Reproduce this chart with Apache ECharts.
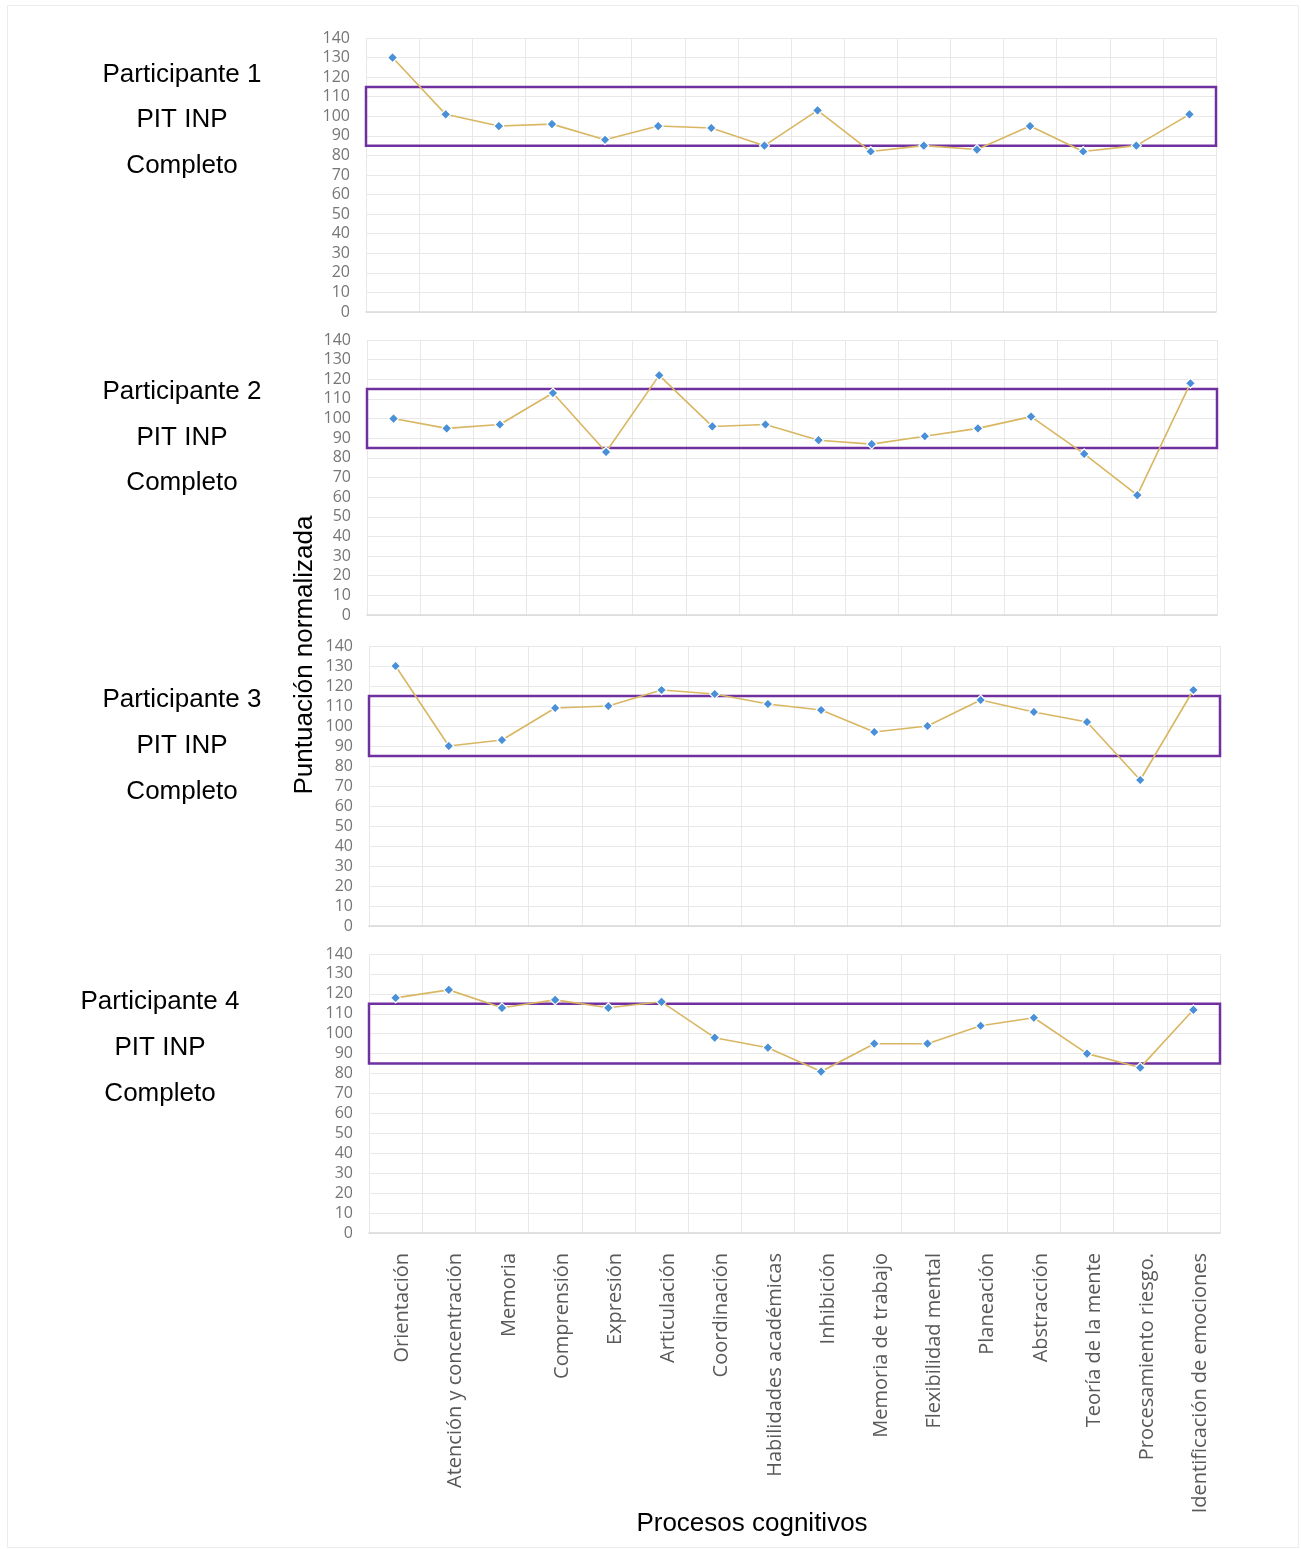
<!DOCTYPE html>
<html>
<head>
<meta charset="utf-8">
<script src="https://cdn.jsdelivr.net/npm/echarts@6/dist/echarts.min.js"></script>
<style>
html,body{margin:0;padding:0;background:#fff;}
#chart{width:1301px;height:1549px;}
</style>
</head>
<body>
<div id="chart"></div>
<script>
// ---- data ----
const categories = ["Orientación","Atención y concentración","Memoria","Comprensión","Expresión","Articulación","Coordinación","Habilidades académicas","Inhibición","Memoria de trabajo","Flexibilidad mental","Planeación","Abstracción","Teoría de la mente","Procesamiento riesgo.","Identificación de emociones"];
const participante1 = [130,101,95,96,88,95,94,85,103,82,85,83,95,82,85,101];
const participante2 = [100,95,97,113,83,122,96,97,89,87,91,95,101,82,61,118];
const participante3 = [130,90,93,109,110,118,116,111,108,97,100,113,107,102,73,118];
const participante4 = [118,122,113,117,113,116,98,93,81,95,95,104,108,90,83,112];
const panelNames = ["Participante 1","Participante 2","Participante 3","Participante 4"];
const panelSub = ["PIT INP","Completo"];
const yMin = 0, yMax = 140, yInterval = 10;
const normalRange = [85, 115];
const yTitle = "Puntuación normalizada";
const xTitle = "Procesos cognitivos";

const seriesData = [participante1, participante2, participante3, participante4];

// ---- layout ----
const grids = [
  {left:366, top:38, width:850, height:274},
  {left:367, top:340, width:850, height:275},
  {left:369, top:646, width:851, height:280},
  {left:369, top:954, width:851, height:279}
];
const textCenters = [
  {x:182, y:[75,120,166]},
  {x:182, y:[392,438,483]},
  {x:182, y:[700,746,792]},
  {x:160, y:[1002,1048,1094]}
];

const chart = echarts.init(document.getElementById('chart'), null, {renderer:'canvas'});

const xAxes = grids.map((g,i)=>({
  type:'category', gridIndex:i, data:categories, boundaryGap:true,
  axisLine:{show:true, lineStyle:{color:'#d9d9d9', width:1.5}},
  axisTick:{show:false, interval:0},
  splitLine:{show:true, interval:0, lineStyle:{color:'#e8e8e8', width:1}},
  axisLabel: i===3 ? {show:true, rotate:90, interval:0, margin:20, color:'#595959', fontFamily:'Open Sans', fontSize:20, verticalAlign:'top', lineHeight:14} : {show:false, interval:0}
}));
const yAxes = grids.map((g,i)=>({
  type:'value', gridIndex:i, min:yMin, max:yMax, interval:yInterval,
  axisLine:{show:false}, axisTick:{show:false},
  splitLine:{show:true, lineStyle:{color:'#e8e8e8', width:1}},
  axisLabel:{color:'#767676', fontFamily:'Open Sans', fontSize:16, margin:16}
}));

const series = seriesData.map((d,i)=>({
  type:'line', xAxisIndex:i, yAxisIndex:i, data:d,
  symbol:'diamond', symbolSize:10,
  lineStyle:{color:'#d9b662', width:1.6},
  itemStyle:{color:'#4a90d9', borderColor:'#ffffff', borderWidth:1.2},
  z:3,
  markArea:{
    silent:true,
    itemStyle:{color:'rgba(0,0,0,0)', borderColor:'#7030a0', borderWidth:2.5},
    data:[[{yAxis:normalRange[0]},{yAxis:normalRange[1]}]]
  }
}));

const graphics = [];
graphics.push({type:'rect', shape:{x:7.5, y:5.5, width:1291, height:1542}, style:{fill:'none', stroke:'#ececec', lineWidth:1}, silent:true, z:-10});
textCenters.forEach((t,i)=>{
  const lines = [panelNames[i], panelSub[0], panelSub[1]];
  lines.forEach((s,k)=>{
    graphics.push({type:'text', x:t.x, y:t.y[k], style:{text:s, fill:'#000', font:'26px "Liberation Sans", Arial, sans-serif', textAlign:'center', textVerticalAlign:'middle'}});
  });
});
graphics.push({type:'text', x:305, y:655, rotation:Math.PI/2, style:{text:yTitle, fill:'#000', font:'26px "Liberation Sans", Arial, sans-serif', textAlign:'center', textVerticalAlign:'middle'}});
graphics.push({type:'text', x:752, y:1524, style:{text:xTitle, fill:'#000', font:'26px "Liberation Sans", Arial, sans-serif', textAlign:'center', textVerticalAlign:'middle'}});

chart.setOption({
  backgroundColor:'#ffffff',
  animation:false,
  grid:grids,
  xAxis:xAxes,
  yAxis:yAxes,
  series:series,
  graphic:graphics
});
</script>
</body>
</html>
